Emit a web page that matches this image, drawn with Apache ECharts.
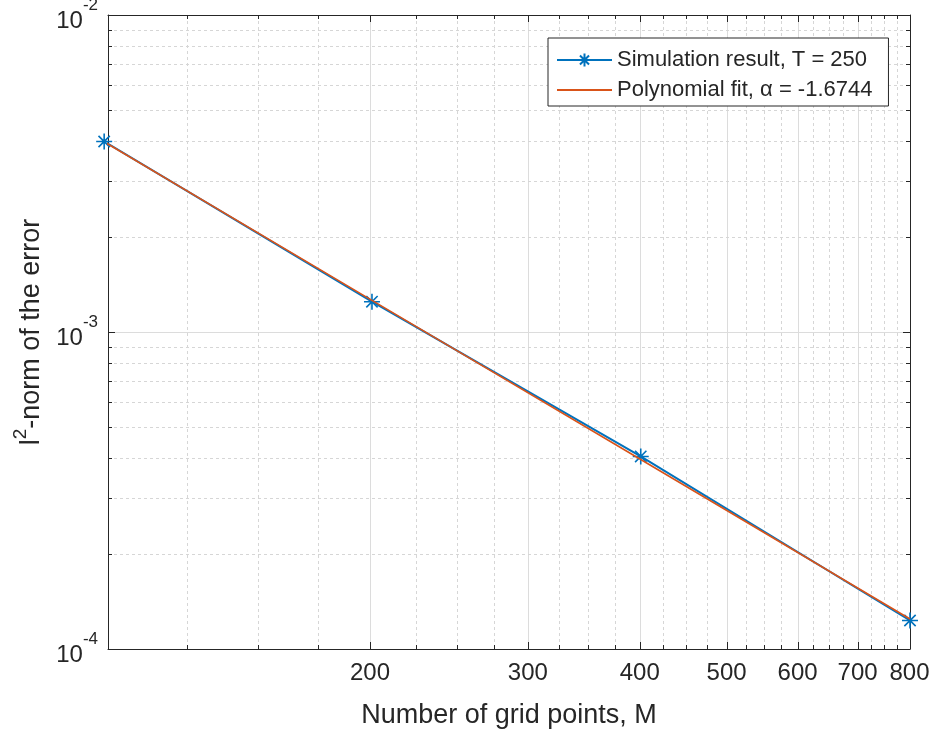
<!DOCTYPE html>
<html><head><meta charset="utf-8">
<script src="https://cdn.jsdelivr.net/npm/echarts@6/dist/echarts.min.js"></script>
<style>html,body{margin:0;padding:0;background:#fff}#c{width:930px;height:730px}</style>
</head><body><div id="c"></div>
<script>
const gridPointsM = [101, 201, 401, 801];
const simulationError = [3.99e-3, 1.246e-3, 4.05e-4, 1.23e-4];
const fitError = [3.98e-3, 1.258e-3, 3.96e-4, 1.243e-4];
const xMajorTicks = [200, 300, 400, 500, 600, 700, 800];
const xMinorTicks = [125, 150, 175, 225, 250, 275, 325, 350, 375, 425, 450, 475, 525, 550, 575, 625, 650, 675, 725, 750, 775];
const yMajorTicks = [1e-4, 1e-3, 1e-2];
const yMinorTicks = [2e-4, 3e-4, 4e-4, 5e-4, 6e-4, 7e-4, 8e-4, 9e-4, 2e-3, 3e-3, 4e-3, 5e-3, 6e-3, 7e-3, 8e-3, 9e-3];
const seriesNames = ['Simulation result, T = 250', 'Polynomial fit, \u03b1 = -1.6744'];
const xAxisTitle = 'Number of grid points, M';
const X_MIN = 102, X_MAX = 801, Y_MIN = 1e-4, Y_MAX = 1e-2;

const FONT = "'Liberation Sans', Arial, Helvetica, sans-serif";
const AX = '#262626';
const GRID_MAJOR = '#dcdcdc';
const GRID_MINOR = '#d6d6d6';
const ASTERISK = 'path://M5,0L5,10M0,5L10,5M1.46,1.46L8.54,8.54M8.54,1.46L1.46,8.54';

function crisp(v) { return Math.round(v) + 0.5; }

function xGridItem(params, api) {
  const cs = params.coordSys;
  const x = crisp(api.coord([api.value(0), 1e-3])[0]);
  const major = api.value(2) === 1;
  const top = cs.y, bot = cs.y + cs.height;
  const tl = major ? 7 : 4;
  const ch = [];
  if (x > cs.x + 2 && x < cs.x + cs.width - 2) {
    ch.push({type: 'line', shape: {x1: x, y1: top, x2: x, y2: bot},
      style: {stroke: major ? GRID_MAJOR : GRID_MINOR, lineWidth: 1, lineDash: major ? null : [3, 3]}});
  }
  ch.push({type: 'line', shape: {x1: x, y1: bot, x2: x, y2: bot - tl}, style: {stroke: AX, lineWidth: 1}});
  ch.push({type: 'line', shape: {x1: x, y1: top, x2: x, y2: top + tl}, style: {stroke: AX, lineWidth: 1}});
  return {type: 'group', children: ch};
}
function yGridItem(params, api) {
  const cs = params.coordSys;
  const y = crisp(api.coord([200, api.value(1)])[1]);
  const major = api.value(2) === 1;
  const l = cs.x, r = cs.x + cs.width;
  const tl = major ? 7 : 4;
  const ch = [];
  if (y > cs.y + 2 && y < cs.y + cs.height - 2) {
    ch.push({type: 'line', shape: {x1: l, y1: y, x2: r, y2: y},
      style: {stroke: major ? GRID_MAJOR : GRID_MINOR, lineWidth: 1, lineDash: major ? null : [3, 3]}});
  }
  ch.push({type: 'line', shape: {x1: l, y1: y, x2: l + tl, y2: y}, style: {stroke: AX, lineWidth: 1}});
  ch.push({type: 'line', shape: {x1: r, y1: y, x2: r - tl, y2: y}, style: {stroke: AX, lineWidth: 1}});
  return {type: 'group', children: ch};
}

const supRich = {
  b: {fontSize: 24, fontFamily: FONT, color: AX, lineHeight: 36, verticalAlign: 'bottom'},
  s: {fontSize: 17, fontFamily: FONT, color: AX, lineHeight: 30, verticalAlign: 'top'}
};

const chart = echarts.init(document.getElementById('c'), null, {renderer: 'canvas'});
chart.setOption({
  animation: false,
  backgroundColor: '#ffffff',
  grid: {left: 108, right: 20, top: 15, bottom: 81, containLabel: false, outerBoundsMode: 'none'},
  legend: {
    data: [
      {name: seriesNames[0]},
      {name: seriesNames[1], itemStyle: {opacity: 0}}
    ],
    left: 548, top: 38,
    orient: 'vertical',
    backgroundColor: '#ffffff',
    borderColor: AX, borderWidth: 1,
    padding: [11, 16, 5, 8],
    itemGap: 8,
    itemWidth: 55, itemHeight: 16,
    textStyle: {fontSize: 22, fontFamily: FONT, color: AX, lineHeight: 22},
    selectedMode: false,
    z: 20
  },
  xAxis: [{
    type: 'log', logBase: 10, min: X_MIN, max: X_MAX, position: 'bottom', z: 5,
    axisLine: {show: true, onZero: false, lineStyle: {color: AX, width: 1}},
    axisTick: {show: false},
    splitLine: {show: false}, minorTick: {show: false}, minorSplitLine: {show: false},
    axisLabel: {show: true, customValues: xMajorTicks, fontSize: 24, fontFamily: FONT, color: AX, margin: 12,
      formatter: v => String(Math.round(v))},
    name: xAxisTitle, nameLocation: 'middle', nameGap: 53,
    nameTextStyle: {fontSize: 27, fontFamily: FONT, color: AX}
  }, {
    type: 'log', logBase: 10, min: X_MIN, max: X_MAX, position: 'top', z: 5,
    axisLine: {show: true, onZero: false, lineStyle: {color: AX, width: 1}},
    axisTick: {show: false}, axisLabel: {show: false}, splitLine: {show: false}
  }],
  yAxis: [{
    type: 'log', logBase: 10, min: Y_MIN, max: Y_MAX, position: 'left', z: 5,
    axisLine: {show: true, onZero: false, lineStyle: {color: AX, width: 1}},
    axisTick: {show: false},
    splitLine: {show: false}, minorTick: {show: false}, minorSplitLine: {show: false},
    axisLabel: {show: true, margin: 10, fontFamily: FONT, color: AX,
      formatter: v => '{b|10}{s|' + Math.round(Math.log10(v)) + '}', rich: supRich},
    name: '{a|l}{s|2}{a|-norm of the error}', nameLocation: 'middle', nameGap: 57, nameRotate: 90,
    nameTextStyle: {fontFamily: FONT, color: AX, rich: {
      a: {fontSize: 27, fontFamily: FONT, color: AX, lineHeight: 34, verticalAlign: 'bottom'},
      s: {fontSize: 19, fontFamily: FONT, color: AX, lineHeight: 28, verticalAlign: 'top'}
    }}
  }, {
    type: 'log', logBase: 10, min: Y_MIN, max: Y_MAX, position: 'right', z: 5,
    axisLine: {show: true, onZero: false, lineStyle: {color: AX, width: 1}},
    axisTick: {show: false}, axisLabel: {show: false}, splitLine: {show: false}
  }],
  series: [{
    type: 'custom', name: 'xgrid', silent: true, z: 1, clip: false,
    xAxisIndex: 0, yAxisIndex: 0,
    renderItem: xGridItem,
    encode: {x: 0, y: 1},
    data: xMajorTicks.map(v => [v, 1e-3, 1]).concat(xMinorTicks.map(v => [v, 1e-3, 0]))
  }, {
    type: 'custom', name: 'ygrid', silent: true, z: 1, clip: false,
    xAxisIndex: 0, yAxisIndex: 0,
    renderItem: yGridItem,
    encode: {x: 0, y: 1},
    data: yMajorTicks.map(v => [200, v, 1]).concat(yMinorTicks.map(v => [200, v, 0]))
  }, {
    name: seriesNames[0], type: 'line', xAxisIndex: 0, yAxisIndex: 0, z: 10, clip: false,
    data: gridPointsM.map((m, i) => [m, simulationError[i]]),
    symbol: ASTERISK, symbolSize: 16, showAllSymbol: true,
    lineStyle: {color: '#0072BD', width: 2},
    itemStyle: {color: '#0072BD', borderColor: '#0072BD', borderWidth: 1.6},
    emphasis: {disabled: true}
  }, {
    name: seriesNames[1], type: 'line', xAxisIndex: 0, yAxisIndex: 0, z: 11, clip: false,
    data: gridPointsM.map((m, i) => [m, fitError[i]]),
    symbol: 'none',
    lineStyle: {color: '#D95319', width: 1.6},
    itemStyle: {color: '#D95319'},
    emphasis: {disabled: true}
  }]
});
</script>
</body></html>
